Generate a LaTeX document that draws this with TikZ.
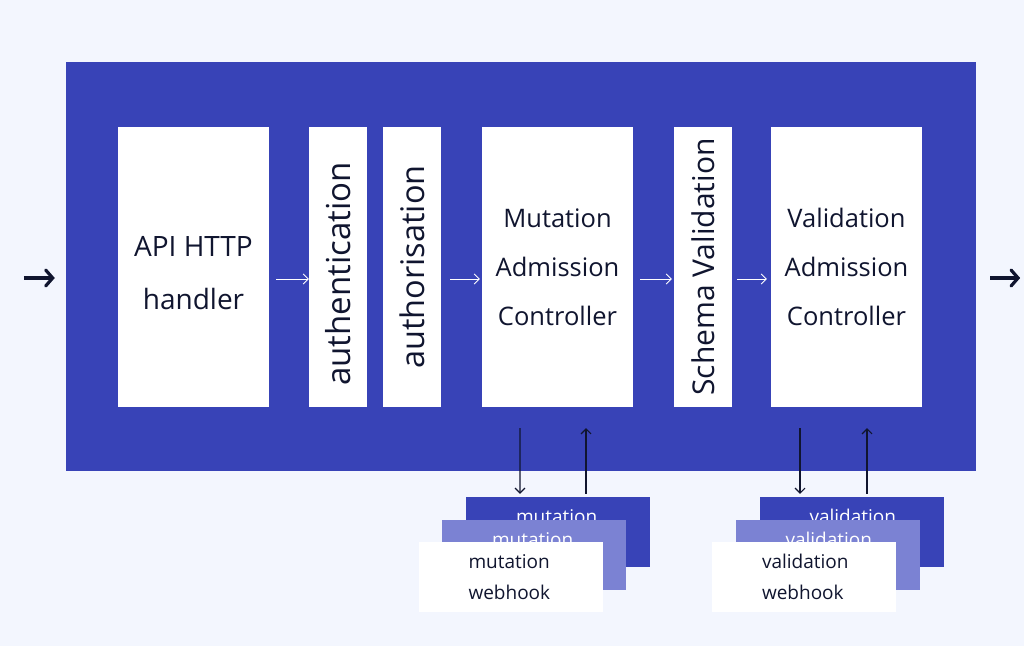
\documentclass[tikz,border=0pt]{standalone}
\usepackage{fontspec}
\setmainfont{Open Sans}
\usetikzlibrary{arrows.meta}
\definecolor{bgpale}{HTML}{F3F6FE}
\definecolor{kblue}{HTML}{3843B7}
\definecolor{klight}{HTML}{7B82D3}
\definecolor{kink}{HTML}{10152F}
\tikzset{
  stage/.style={fill=white,draw=none,minimum width=151bp,minimum height=280bp,
    align=center,text=kink,font=\fontsize{25.5bp}{49bp}\selectfont},
  slim/.style={fill=white,draw=none,minimum width=280bp,minimum height=58bp,
    inner sep=0pt,text=kink,rotate=90,font=\fontsize{#1}{30bp}\selectfont},
  slim/.default=32.5bp,
  hook/.style={draw=none,minimum height=70bp,text width=84bp,inner xsep=50bp,
    inner ysep=0pt,align=left,font=\fontsize{19bp}{31bp}\selectfont},
  flow/.style={white,line width=0.8bp,-{Straight Barb[length=5bp,width=10bp]}},
  call/.style={kink,line width=1.1bp,-{Straight Barb[length=5bp,width=10bp]}},
  outer/.style={kink,line width=3.2bp,-{Straight Barb[length=7bp,width=16bp,line cap=round]}},
}
\begin{document}
\begin{tikzpicture}[line join=bevel]
\useasboundingbox (0bp,0bp) rectangle (1024bp,646bp);
\fill [bgpale] (0bp,0bp) rectangle (1024bp,646bp);
%%
\node (node_main) at (521bp,379.5bp) [fill=kblue,minimum width=910bp,minimum height=409bp] {};
\node (node_api) at (193.5bp,379bp) [stage] {};
\node (node_api_text) at (193.5bp,372.5bp) [align=center,text=kink,font=\fontsize{28bp}{53bp}\selectfont] {API HTTP\\handler};
\node (node_authn) at (338bp,379bp) [slim=33bp] {authentication\rule{14bp}{0pt}};
\node (node_authz) at (412bp,379bp) [slim] {authorisation};
\node (node_mut) at (557.5bp,379bp) [stage] {Mutation\\Admission\\Controller};
\node (node_schema) at (703bp,379bp) [slim=30bp] {Schema Validation};
\node (node_val) at (846.5bp,379bp) [stage] {Validation\\Admission\\Controller};
%% webhook stacks
\node (node_mhook_c) at (558bp,114bp) [hook,fill=kblue,text=white] {mutation\\webhook};
\node (node_mhook_b) at (534bp,91bp) [hook,fill=klight,text=white] {mutation\\webhook};
\node (node_mhook_a) at (510.5bp,69bp) [hook,fill=white,text=kink] {mutation\\webhook};
\node (node_vhook_c) at (851.5bp,114bp) [hook,fill=kblue,text=white] {validation\\webhook};
\node (node_vhook_b) at (827.5bp,91bp) [hook,fill=klight,text=white] {validation\\webhook};
\node (node_vhook_a) at (804bp,69bp) [hook,fill=white,text=kink] {validation\\webhook};
%% pipeline
\coordinate (flow_row) at ([yshift=-12bp]node_mut.west);
\draw [flow,shorten <=7bp] (node_api.east |- flow_row) -- (node_authn.north |- flow_row);
\draw [flow,shorten <=9bp,shorten >=2bp] (node_authz.south |- flow_row) -- (flow_row);
\draw [flow,shorten <=7bp,shorten >=2bp] (node_mut.east |- flow_row) -- (node_schema.north |- flow_row);
\draw [flow,shorten <=5bp,shorten >=4bp] (node_schema.south |- flow_row) -- (node_val.west |- flow_row);
%% webhook calls
\draw [call] ([xshift=-37.5bp,yshift=-21bp]node_mut.south) -- ([xshift=-38bp,yshift=3bp]node_mhook_c.north);
\draw [call] ([xshift=28bp,yshift=3bp]node_mhook_c.north) -- ([xshift=28.5bp,yshift=-21bp]node_mut.south);
\draw [call] ([xshift=-46.5bp,yshift=-21bp]node_val.south) -- ([xshift=-51.5bp,yshift=3bp]node_vhook_c.north);
\draw [call] ([xshift=15.5bp,yshift=3bp]node_vhook_c.north) -- ([xshift=20.5bp,yshift=-21bp]node_val.south);
%% in and out
\draw [outer] ([xshift=-42bp,yshift=-11.5bp]node_main.west) -- ([xshift=-11bp,yshift=-11.5bp]node_main.west);
\draw [outer] ([xshift=14bp,yshift=-11.5bp]node_main.east) -- ([xshift=44bp,yshift=-11.5bp]node_main.east);
%
\end{tikzpicture}
\end{document}
